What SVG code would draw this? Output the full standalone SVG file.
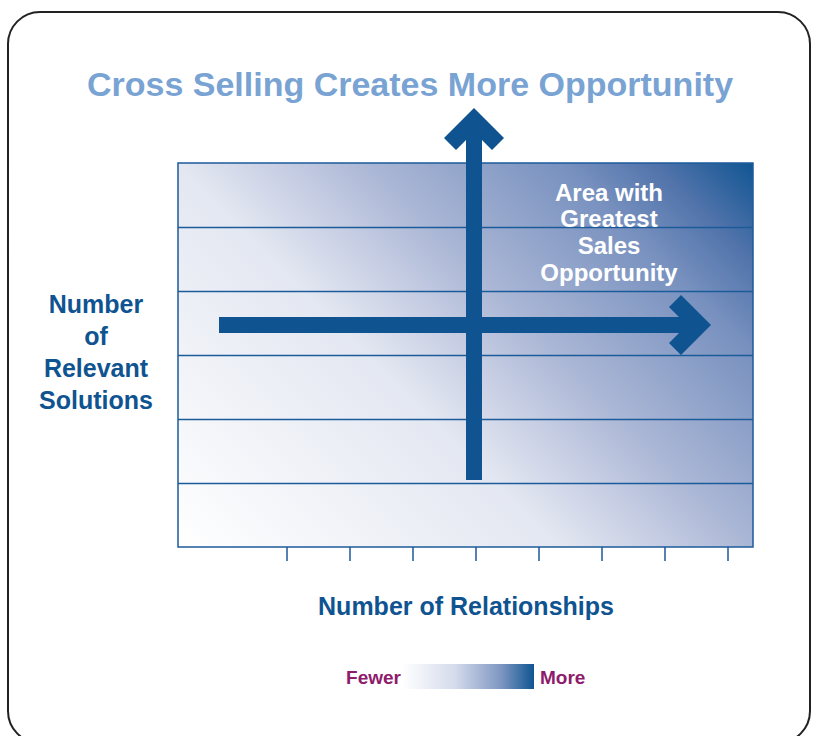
<svg xmlns="http://www.w3.org/2000/svg" width="817" height="736" viewBox="0 0 817 736">
  <style>
    .lbl { font-family: "Liberation Sans", Arial, sans-serif; font-weight: bold; }
    .blue { fill: #0f5491; }
    .grid { stroke: #1c5b9a; stroke-width: 1.5; fill: none; }
    .arrow { fill: #0f5491; }
    .key { fill: #8e1b6c; font-size: 19px; }
  </style>
  <defs>
    <linearGradient id="chartGrad" gradientUnits="userSpaceOnUse" x1="178" y1="547" x2="658" y2="67">
      <stop offset="0" stop-color="#ffffff"/>
      <stop offset="0.4" stop-color="#e3e7f1"/>
      <stop offset="0.5" stop-color="#c8cfe4"/>
      <stop offset="0.6" stop-color="#aab6d5"/>
      <stop offset="0.8" stop-color="#7891bf"/>
      <stop offset="0.9" stop-color="#4f72aa"/>
      <stop offset="1" stop-color="#0f5592"/>
    </linearGradient>
    <linearGradient id="keyGrad" x1="0" y1="0" x2="1" y2="0">
      <stop offset="0" stop-color="#ffffff"/>
      <stop offset="0.4" stop-color="#d5dbeb"/>
      <stop offset="0.75" stop-color="#7e97c2"/>
      <stop offset="1" stop-color="#0f5592"/>
    </linearGradient>
  </defs>

  <rect id="frame" x="8" y="12" width="802" height="731" rx="32" ry="32" fill="#ffffff" stroke="#222222" stroke-width="2"/>

  <text id="title" class="lbl" x="410" y="96" font-size="34" fill="#79a3d3" text-anchor="middle">Cross Selling Creates More Opportunity</text>

  <g id="chart">
    <rect x="178" y="163" width="575" height="384" style="fill:url(#chartGrad);stroke:#1c5b9a;stroke-width:1.5"/>
    <path class="grid" d="M178 227.5H753M178 291.5H753M178 355.5H753M178 419.5H753M178 483.5H753"/>
    <path class="grid" d="M287 547V561M350 547V561M413 547V561M476 547V561M539 547V561M602 547V561M665 547V561M728 547V561"/>
  </g>

  <g id="connectors">
    <polygon id="arrow-h" class="arrow" points="219,317 679,317 669,307 681,295 711,325 681,355 669,343 679,333 219,333"/>
    <polygon id="arrow-v" class="arrow" points="466,480 466,140 456,150 444,138 474,108 504,138 492,150 482,140 482,480"/>
  </g>

  <g id="area-label">
    <text class="lbl" x="609" y="201" font-size="24" fill="#ffffff" text-anchor="middle">Area with</text>
    <text class="lbl" x="609" y="227" font-size="24" fill="#ffffff" text-anchor="middle">Greatest</text>
    <text class="lbl" x="609" y="254" font-size="24" fill="#ffffff" text-anchor="middle">Sales</text>
    <text class="lbl" x="609" y="281" font-size="24" fill="#ffffff" text-anchor="middle">Opportunity</text>
  </g>

  <g id="y-axis-label">
    <text class="lbl blue" x="96" y="313" font-size="25" text-anchor="middle">Number</text>
    <text class="lbl blue" x="96" y="345" font-size="25" text-anchor="middle">of</text>
    <text class="lbl blue" x="96" y="377" font-size="25" text-anchor="middle">Relevant</text>
    <text class="lbl blue" x="96" y="409" font-size="25" text-anchor="middle">Solutions</text>
  </g>

  <g id="x-axis-label">
    <text class="lbl blue" x="466" y="615" font-size="25" text-anchor="middle">Number of Relationships</text>
  </g>

  <g id="legend">
    <text class="lbl key" x="401" y="684" text-anchor="end">Fewer</text>
    <rect x="402" y="664" width="132" height="25" fill="url(#keyGrad)"/>
    <text class="lbl key" x="540" y="684">More</text>
  </g>
</svg>
